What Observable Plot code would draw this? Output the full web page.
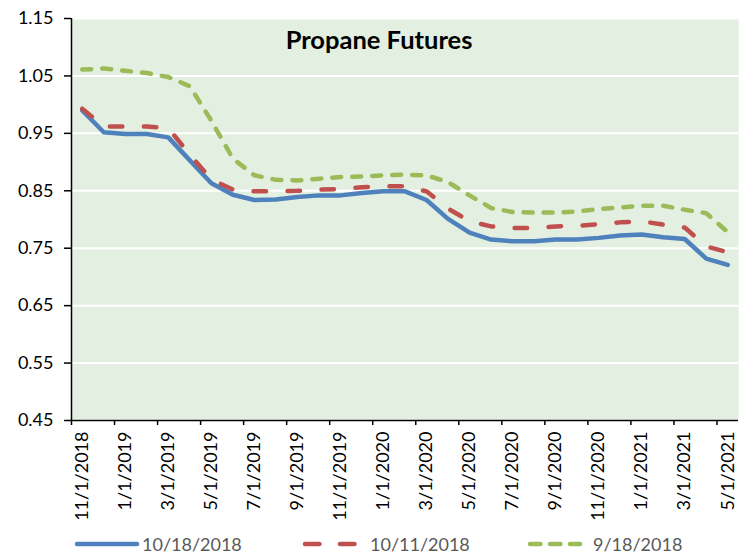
<!DOCTYPE html>
<html>
<head>
<meta charset="utf-8">
<script src="https://cdn.jsdelivr.net/npm/d3@7"></script>
<script src="https://cdn.jsdelivr.net/npm/@observablehq/plot@0.6"></script>
<style>
  html, body { margin: 0; padding: 0; background: white; }
  #wrap { width: 741px; font-family: Lato, sans-serif; }
</style>
</head>
<body>
<div id="wrap"></div>
<script>
const title = "Propane Futures";
const months = ["11/1/2018","12/1/2018","1/1/2019","2/1/2019","3/1/2019","4/1/2019","5/1/2019","6/1/2019","7/1/2019","8/1/2019","9/1/2019","10/1/2019","11/1/2019","12/1/2019","1/1/2020","2/1/2020","3/1/2020","4/1/2020","5/1/2020","6/1/2020","7/1/2020","8/1/2020","9/1/2020","10/1/2020","11/1/2020","12/1/2020","1/1/2021","2/1/2021","3/1/2021","4/1/2021","5/1/2021"];
const seriesNames = ["10/18/2018", "10/11/2018", "9/18/2018"];
const s1018 = [0.990,0.952,0.949,0.949,0.943,0.903,0.863,0.843,0.834,0.835,0.839,0.842,0.842,0.846,0.849,0.849,0.834,0.801,0.777,0.765,0.762,0.762,0.765,0.765,0.768,0.772,0.774,0.769,0.766,0.732,0.721];
const s1011 = [0.993,0.962,0.962,0.962,0.959,0.913,0.870,0.852,0.849,0.849,0.850,0.852,0.853,0.856,0.858,0.858,0.849,0.819,0.797,0.788,0.785,0.785,0.788,0.789,0.792,0.795,0.797,0.791,0.786,0.753,0.743];
const s0918 = [1.061,1.063,1.059,1.055,1.048,1.032,0.972,0.906,0.877,0.869,0.868,0.871,0.874,0.875,0.877,0.878,0.877,0.865,0.842,0.820,0.813,0.812,0.812,0.814,0.818,0.821,0.824,0.824,0.817,0.811,0.778];
const yTicks = [0.45, 0.55, 0.65, 0.75, 0.85, 0.95, 1.05, 1.15];
const labelIdx = [0,2,4,6,8,10,12,14,16,18,20,22,24,26,28,30];
const boundaryTicks = labelIdx.map(i => i - 0.5);

const colors = ["#4F81BD", "#C0504D", "#9BBB59"];
const dashes = [null, "12.5,21.5", "9,11"];
const bg = "#E3F0E1";

const toRows = arr => arr.map((v, i) => ({i, v}));
const rows = [toRows(s1018), toRows(s1011), toRows(s0918)];

const chart = Plot.plot({
  width: 741,
  height: 530,
  marginLeft: 71,
  marginRight: 3,
  marginTop: 18,
  marginBottom: 110,
  style: {fontFamily: "Lato, sans-serif", color: "black", background: "white"},
  x: {type: "linear", domain: [-0.5, 30.5]},
  y: {domain: [0.45, 1.15]},
  marks: [
    Plot.frame({fill: bg, stroke: "none"}),
    Plot.gridY({ticks: yTicks, stroke: "white", strokeOpacity: 1, strokeWidth: 2}),
    Plot.axisY({ticks: yTicks, tickSize: 7, tickPadding: 11, fontSize: 18, tickFormat: d3.format(".2f"), strokeWidth: 1.5, label: null}),
    Plot.axisX({ticks: boundaryTicks, tickSize: 5, tickFormat: () => "", strokeWidth: 1.5, label: null}),
    Plot.axisX({ticks: labelIdx, tickSize: 0, tickPadding: 11, tickRotate: -90, fontSize: 18, tickFormat: i => months[i], label: null}),
    Plot.ruleX([-0.5], {stroke: "black", strokeWidth: 1.5}),
    Plot.ruleY([0.45], {stroke: "black", strokeWidth: 1.5}),
    ...rows.map((r, k) => Plot.line(r, {x: "i", y: "v", stroke: colors[k], strokeWidth: 4.5, strokeDasharray: dashes[k]})),
    Plot.text([title], {frameAnchor: "top", lineAnchor: "top", dx: -26, dy: 12, fontSize: 25.5, fontWeight: "bold", fill: "black"})
  ]
});
document.getElementById("wrap").appendChild(chart);

// Legend below the chart
const leg = d3.select("#wrap").append("svg")
  .attr("width", 741).attr("height", 25)
  .style("display", "block")
  .style("font-family", "Lato, sans-serif");
const legPos = [{x1: 77, x2: 137, tx: 142}, {x1: 305, x2: 357, tx: 370}, {x1: 530, x2: 580, tx: 593}];
seriesNames.forEach((name, k) => {
  const p = legPos[k];
  leg.append("line")
    .attr("x1", p.x1).attr("x2", p.x2).attr("y1", 14).attr("y2", 14)
    .attr("stroke", colors[k]).attr("stroke-width", 4.5)
    .attr("stroke-linecap", "round")
    .attr("stroke-dasharray", k === 1 ? "14.5,20.5" : k === 2 ? "10.5,9.5" : null);
  leg.append("text")
    .attr("x", p.tx).attr("y", 20.5)
    .attr("fill", "#595959").attr("font-size", 18)
    .text(name);
});
</script>
</body>
</html>
